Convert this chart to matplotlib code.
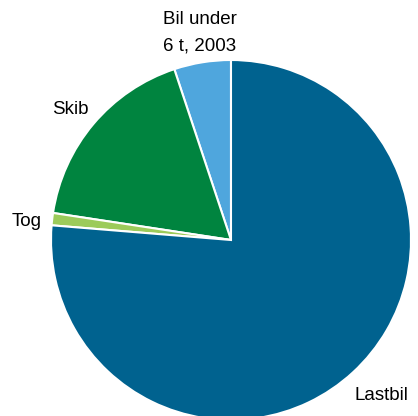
import matplotlib
matplotlib.use("Agg")
import matplotlib.pyplot as plt

labels = ["Bil under\n6 t, 2003", "Skib", "Tog", "Lastbil"]
values = [5.1, 17.5, 1.1, 76.3]
colors = ["#4FA6DD", "#00843F", "#9CCB5A", "#00628F"]

plt.rcParams['font.family'] = ['Liberation Sans', 'DejaVu Sans']

fig = plt.figure(figsize=(4.18, 4.16), dpi=100)
ax = fig.add_axes([0, 0, 1, 1])

cx, cy, r = 231, 240, 180  # pie centre and radius in pixels
ax.pie(values, colors=colors, startangle=90, counterclock=True,
       wedgeprops=dict(edgecolor="white", linewidth=1.5))
ax.set_xlim((0 - cx) / r, (418 - cx) / r)
ax.set_ylim((cy - 416) / r, (cy - 0) / r)
ax.set_aspect("auto")
ax.axis("off")

def px(x, y):
    return (x - cx) / r, (cy - y) / r

label_pos = [(200, 33), (70, 110), (27, 222), (381, 396)]
for lab, (x, y) in zip(labels, label_pos):
    tx, ty = px(x, y)
    ax.text(tx, ty, lab, ha="center", va="center", fontsize=13.5,
            linespacing=1.75, color="black")

fig.savefig("out.png", dpi=100)
